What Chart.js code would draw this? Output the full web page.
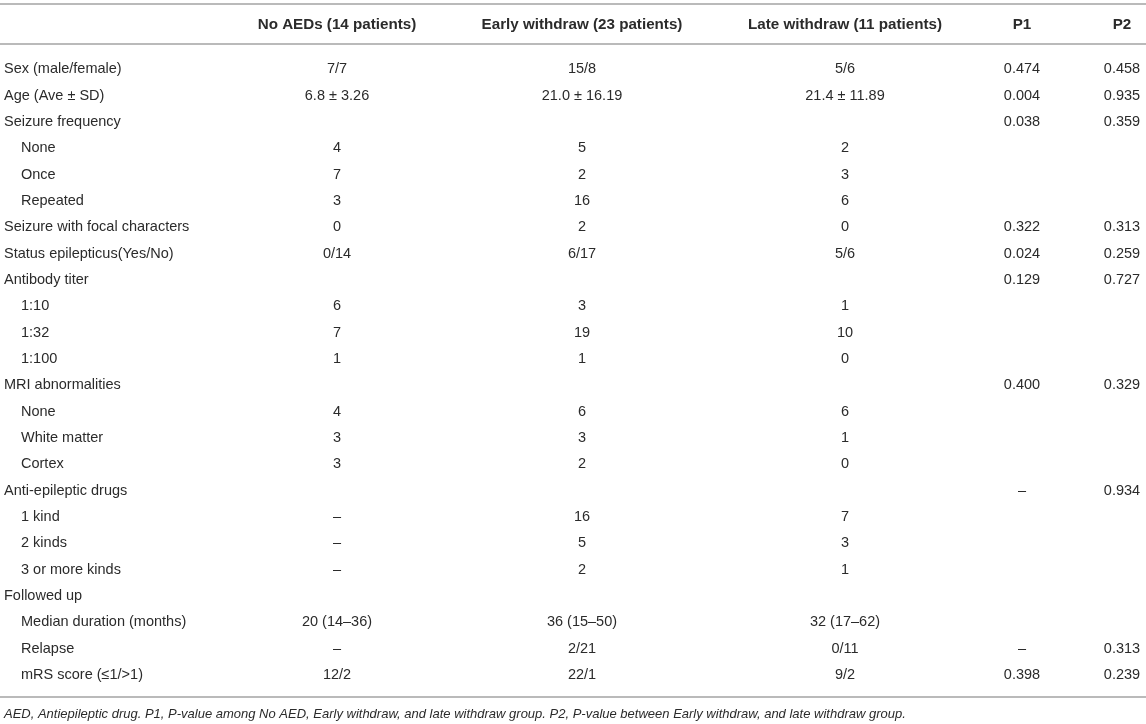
<!DOCTYPE html>
<html>
<head>
<meta charset="utf-8">
<title>AED withdrawal table</title>
<script src="https://cdn.jsdelivr.net/npm/chart.js@4.4.0/dist/chart.umd.min.js"></script>
<style>
  html, body { margin: 0; padding: 0; background: #fff; }
  #wrap { width: 1146px; height: 724px; }
</style>
</head>
<body>
<div id="wrap"><canvas id="table" width="1146" height="724"></canvas></div>
<script>
// table content
const headers = ['', 'No AEDs (14 patients)', 'Early withdraw (23 patients)', 'Late withdraw (11 patients)', 'P1', 'P2'];

const rowLabels = [
  'Sex (male/female)', 'Age (Ave \u00b1 SD)', 'Seizure frequency', 'None', 'Once', 'Repeated',
  'Seizure with focal characters', 'Status epilepticus(Yes/No)', 'Antibody titer', '1:10', '1:32', '1:100',
  'MRI abnormalities', 'None', 'White matter', 'Cortex', 'Anti-epileptic drugs', '1 kind', '2 kinds',
  '3 or more kinds', 'Followed up', 'Median duration (months)', 'Relapse', 'mRS score (\u22641/>1)'
];
// rows drawn indented under a group heading
const subRows = [3, 4, 5, 9, 10, 11, 13, 14, 15, 17, 18, 19, 21, 22, 23];

const noAeds = [
  '7/7', '6.8 \u00b1 3.26', '', '4', '7', '3', '0', '0/14', '', '6', '7', '1',
  '', '4', '3', '3', '', '\u2013', '\u2013', '\u2013', '', '20 (14\u201336)', '\u2013', '12/2'
];
const earlyWithdraw = [
  '15/8', '21.0 \u00b1 16.19', '', '5', '2', '16', '2', '6/17', '', '3', '19', '1',
  '', '6', '3', '2', '', '16', '5', '2', '', '36 (15\u201350)', '2/21', '22/1'
];
const lateWithdraw = [
  '5/6', '21.4 \u00b1 11.89', '', '2', '3', '6', '0', '5/6', '', '1', '10', '0',
  '', '6', '1', '0', '', '7', '3', '1', '', '32 (17\u201362)', '0/11', '9/2'
];
const p1 = [
  '0.474', '0.004', '0.038', '', '', '', '0.322', '0.024', '0.129', '', '', '',
  '0.400', '', '', '', '\u2013', '', '', '', '', '', '\u2013', '0.398'
];
const p2 = [
  '0.458', '0.935', '0.359', '', '', '', '0.313', '0.259', '0.727', '', '', '',
  '0.329', '', '', '', '0.934', '', '', '', '', '', '0.313', '0.239'
];

const footnote = 'AED, Antiepileptic drug. P1, P-value among No AED, Early withdraw, and late withdraw group. ' +
  'P2, P-value between Early withdraw, and late withdraw group.';

// layout
const W = 1146;
const colCenter = [4, 337, 582, 845, 1022, 1122];
const INDENT = 17;
const HEADER_Y = 25;
const RULES_Y = [4, 44, 697];
const FOOT_Y = 714;
const FONT = '"Liberation Sans", Arial, Helvetica, sans-serif';
const TEXT = '#2b2b2b';
const RULE = '#a3a3a3';

const columns = [rowLabels, noAeds, earlyWithdraw, lateWithdraw, p1, p2];

// one point per row in every column, so point index == row index on the category axis
const datasets = columns.map((col, c) => ({
  label: headers[c] || 'Characteristic',
  data: col.map((text, r) => ({ x: colCenter[c], y: rowLabels[r], text })),
  pointRadius: 0,
  pointHoverRadius: 0
}));

const tableText = {
  id: 'tableText',
  beforeDraw(chart) {
    const ctx = chart.ctx;
    ctx.save();
    ctx.fillStyle = '#fff';
    ctx.fillRect(0, 0, chart.width, chart.height);
    ctx.restore();
  },
  afterDatasetsDraw(chart) {
    const { ctx, scales: { x } } = chart;
    ctx.save();
    ctx.fillStyle = TEXT;
    ctx.textBaseline = 'middle';
    ctx.font = '14.5px ' + FONT;

    chart.data.datasets.forEach((ds, di) => {
      const meta = chart.getDatasetMeta(di);
      ctx.textAlign = di === 0 ? 'left' : 'center';
      meta.data.forEach((pt, i) => {
        const cell = ds.data[i];
        if (!cell.text) return;
        const indent = di === 0 && subRows.includes(i) ? INDENT : 0;
        ctx.fillText(cell.text, pt.x + indent, pt.y);
      });
    });

    // column headers
    ctx.font = 'bold 15.2px ' + FONT;
    ctx.textAlign = 'center';
    headers.forEach((h, c) => {
      if (h) ctx.fillText(h, x.getPixelForValue(colCenter[c]), HEADER_Y);
    });

    // horizontal rules
    ctx.strokeStyle = RULE;
    ctx.lineWidth = 1.5;
    RULES_Y.forEach(yy => {
      ctx.beginPath();
      ctx.moveTo(0, yy);
      ctx.lineTo(W, yy);
      ctx.stroke();
    });

    // footnote
    ctx.font = 'italic 13px ' + FONT;
    ctx.textAlign = 'left';
    ctx.fillText(footnote, x.getPixelForValue(colCenter[0]), FOOT_Y);
    ctx.restore();
  }
};

new Chart(document.getElementById('table'), {
  type: 'scatter',
  data: { datasets },
  options: {
    responsive: false,
    animation: false,
    events: [],
    layout: { padding: { top: 56, bottom: 36, left: 0, right: 0 } },
    plugins: {
      legend: { display: false },
      tooltip: { enabled: false }
    },
    scales: {
      x: { type: 'linear', min: 0, max: W, display: false },
      y: { type: 'category', labels: rowLabels, offset: true, display: false }
    }
  },
  plugins: [tableText]
});
</script>
</body>
</html>
